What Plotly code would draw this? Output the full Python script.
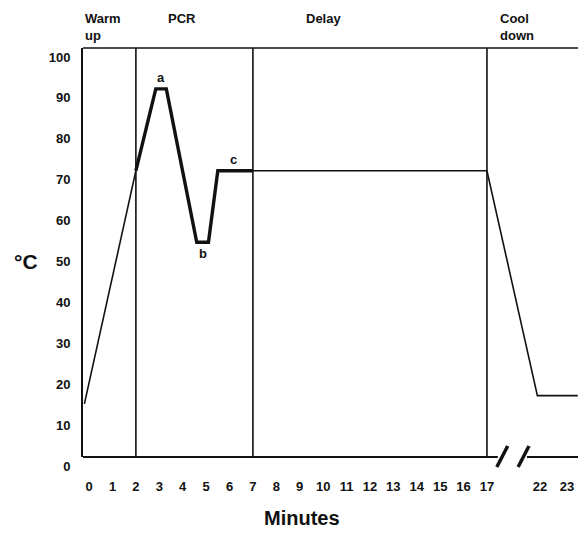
import plotly.graph_objects as go

# ---------------- data (minutes, °C) ----------------
warm_min = [-0.2, 2.0]
warm_temp = [13, 70]

pcr_min = [2.0, 2.85, 3.3, 4.6, 5.1, 5.5, 7.0]
pcr_temp = [70, 90, 90, 52.5, 52.5, 70, 70]

rest_min = [7, 17, 21.9, 23.4]
rest_temp = [70, 70, 15, 15]

phase_bounds = [2, 7, 17]
phase_names = ["Warm<br>up", "PCR", "Delay", "Cool<br>down"]

point_labels = ["a", "b", "c"]
point_min = [3.07, 4.85, 6.19]
point_temp = [90, 52.5, 70]

y_tick_vals = [0, 10, 20, 30, 40, 50, 60, 70, 80, 90, 100]
x_tick_minutes = list(range(0, 18)) + [22, 23]

# broken axis: minutes after the break are compressed
BREAK_START = 17
BREAK_RESUME = 22
GAP = 2.27
POST_SCALE = 1.15


def pos(m):
    if m <= BREAK_START:
        return m
    return BREAK_START + GAP + (m - BREAK_RESUME) * POST_SCALE


# label placement (axis display units)
phase_label_pos = [-0.26, 3.97, 10.0, 17.47]

FONT = "Liberation Sans, Arial, sans-serif"
BLACK = "#111111"

fig = go.Figure()
fig.add_trace(go.Scatter(x=[pos(m) for m in warm_min], y=warm_temp, mode="lines",
                         line=dict(color=BLACK, width=1.6), showlegend=False, hoverinfo="skip"))
fig.add_trace(go.Scatter(x=[pos(m) for m in pcr_min], y=pcr_temp, mode="lines",
                         line=dict(color=BLACK, width=3.4), showlegend=False, hoverinfo="skip"))
fig.add_trace(go.Scatter(x=[pos(m) for m in rest_min], y=rest_temp, mode="lines",
                         line=dict(color=BLACK, width=1.6), showlegend=False, hoverinfo="skip"))

shapes = []
# top border
shapes.append(dict(type="line", xref="paper", yref="paper", x0=0, x1=1, y0=1, y1=1,
                   line=dict(color=BLACK, width=1.5)))
# phase boundaries
for b in phase_bounds:
    shapes.append(dict(type="line", xref="x", yref="paper", x0=pos(b), x1=pos(b), y0=0, y1=1,
                       line=dict(color=BLACK, width=1.6)))
# broken baseline
shapes.append(dict(type="line", xref="paper", yref="paper", x0=0, x1=0.838, y0=0, y1=0,
                   line=dict(color=BLACK, width=2)))
shapes.append(dict(type="line", xref="paper", yref="paper", x0=0.897, x1=1, y0=0, y1=0,
                   line=dict(color=BLACK, width=2)))
for sx in (0.836, 0.879):
    shapes.append(dict(type="line", xref="paper", yref="paper", x0=sx, x1=sx + 0.022,
                       y0=-0.0244, y1=0.0269, line=dict(color=BLACK, width=3.5)))

annotations = []
for name, px in zip(phase_names, phase_label_pos):
    annotations.append(dict(text=name, xref="x", yref="paper", x=px, y=1.0954,
                            xanchor="left" if "<br>" in name else "center", yanchor="top",
                            showarrow=False, align="left",
                            font=dict(family=FONT, size=13, color=BLACK, weight="bold")))
for lab, m, t in zip(point_labels, point_min, point_temp):
    below = lab == "b"
    annotations.append(dict(text=lab, xref="x", yref="y", x=pos(m), y=t,
                            yanchor="top" if below else "bottom",
                            yshift=-2 if below else 2, showarrow=False,
                            font=dict(family=FONT, size=13, color=BLACK, weight="bold")))
annotations.append(dict(text="°C", xref="paper", yref="paper", x=-0.115, y=0.477,
                        xanchor="center", yanchor="middle", showarrow=False,
                        font=dict(family=FONT, size=21, color=BLACK, weight="bold")))
annotations.append(dict(text="Minutes", xref="paper", yref="paper", x=0.442, y=-0.149,
                        xanchor="center", yanchor="middle", showarrow=False,
                        font=dict(family=FONT, size=20, color=BLACK, weight="bold")))

fig.update_layout(
    width=578, height=535,
    margin=dict(l=83, r=0, t=48, b=78),
    paper_bgcolor="white", plot_bgcolor="white",
    shapes=shapes, annotations=annotations,
    xaxis=dict(range=[-0.26, 20.89], showgrid=False, zeroline=False, showline=False,
               tickmode="array", tickvals=[pos(m) for m in x_tick_minutes],
               ticktext=[str(m) for m in x_tick_minutes], ticks="",
               ticklabelstandoff=20,
               tickfont=dict(family=FONT, size=13, color=BLACK, weight="bold")),
    yaxis=dict(range=[0, 100], showgrid=False, zeroline=False, showline=True,
               linecolor=BLACK, linewidth=2,
               tickmode="array", tickvals=y_tick_vals, ticktext=[str(v) for v in y_tick_vals],
               ticks="", ticklabelstandoff=8, ticklabelshift=9,
               tickfont=dict(family=FONT, size=13, color=BLACK, weight="bold")),
)

# remove the page's default body margin so the figure fills the window exactly
fig.write_html(
    "out.html",
    config={"displayModeBar": False},
    post_script="document.body.style.margin='0';document.body.style.overflow='hidden';",
)
